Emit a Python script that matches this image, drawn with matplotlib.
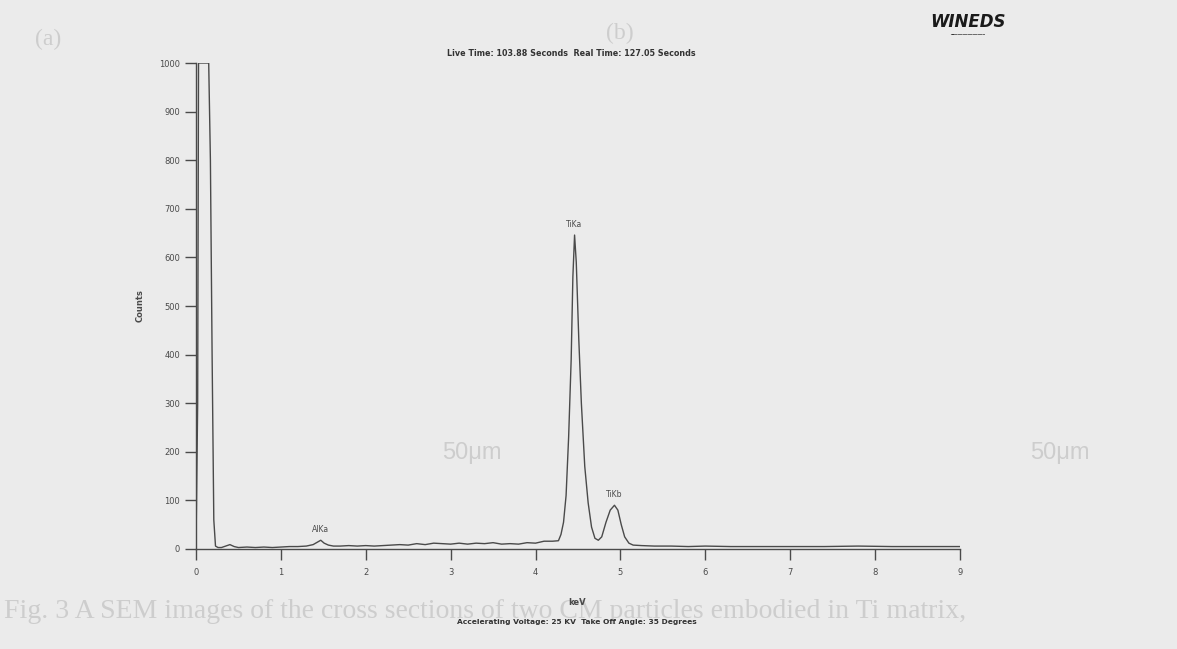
import numpy as np
import matplotlib.pyplot as plt

# EDS 能谱数据
energy = [0.00, 0.02, 0.03, 0.15, 0.17, 0.19, 0.21, 0.23, 0.26, 0.30, 0.35, 0.40,
          0.45, 0.50, 0.60, 0.70, 0.80, 0.90, 1.00, 1.10, 1.20, 1.30, 1.38, 1.43,
          1.47, 1.51, 1.56, 1.62, 1.70, 1.80, 1.90, 2.00, 2.10, 2.20, 2.30, 2.40,
          2.50, 2.60, 2.70, 2.80, 2.90, 3.00, 3.10, 3.20, 3.30, 3.40, 3.50, 3.60,
          3.70, 3.80, 3.90, 4.00, 4.10, 4.20, 4.27, 4.30, 4.33, 4.36, 4.39, 4.42,
          4.44, 4.46, 4.48, 4.51, 4.54, 4.58, 4.62, 4.66, 4.70, 4.74, 4.78, 4.83,
          4.88, 4.93, 4.97, 5.01, 5.05, 5.10, 5.15, 5.25, 5.40, 5.60, 5.80, 6.00,
          6.30, 6.60, 7.00, 7.40, 7.80, 8.20, 8.60, 9.00]
counts = [0, 300, 1000, 1000, 800, 400, 60, 6, 3, 3, 6, 9,
          5, 3, 4, 3, 4, 3, 4, 5, 5, 6, 9, 14,
          18, 12, 8, 6, 6, 7, 6, 7, 6, 7, 8, 9,
          8, 11, 9, 12, 11, 10, 12, 10, 12, 11, 13, 10,
          11, 10, 13, 12, 16, 16, 17, 30, 55, 110, 230, 390,
          560, 646, 590, 430, 300, 170, 95, 45, 22, 18, 25, 55,
          80, 90, 80, 50, 25, 12, 8, 7, 6, 6, 5, 6,
          5, 5, 5, 5, 6, 5, 5, 5]

peak_names = ["AlKa", "TiKa", "TiKb"]
peak_x = [1.47, 4.46, 4.93]
peak_y = [18, 646, 90]

x_ticks = [0, 1, 2, 3, 4, 5, 6, 7, 8, 9]
y_ticks = [0, 100, 200, 300, 400, 500, 600, 700, 800, 900, 1000]

plt.rcParams['font.family'] = ['Liberation Sans Narrow', 'DejaVu Sans']
bg = '#ebebeb'
ink = '#4a4a4a'

fig = plt.figure(figsize=(11.77, 6.49), dpi=100)
fig.patch.set_facecolor(bg)

# 背面透过来的文字（扫描件）
ghost = '#cdcdcd'
fig.text(0.03, 0.93, "(a)", fontsize=17, family='Liberation Serif', color=ghost)
fig.text(0.515, 0.94, "(b)", fontsize=17, family='Liberation Serif', color=ghost)
fig.text(0.376, 0.292, "50μm", fontsize=17, family='Liberation Sans', color=ghost)
fig.text(0.875, 0.292, "50μm", fontsize=17, family='Liberation Sans', color=ghost)
fig.text(0.003, 0.048, "Fig. 3 A SEM images of the cross sections of two CM particles embodied in Ti matrix,",
         fontsize=20, family='Liberation Serif', color=ghost, zorder=0)

ax = fig.add_axes([0.1665, 0.1541, 0.6491, 0.7488])
ax.patch.set_alpha(0)
ax.plot(energy, counts, color=ink, linewidth=1.0)

for name, px, py in zip(peak_names, peak_x, peak_y):
    ax.text(px, py + 12, name, fontsize=5.5, color=ink, ha='center', va='bottom')

ax.set_xlim(0, 9)
ax.set_ylim(0, 1000)
ax.set_xticks(x_ticks)
ax.set_yticks(y_ticks)
ax.tick_params(axis='both', labelsize=6, colors=ink, length=8, width=1)
ax.tick_params(axis='x', pad=6)
for s in ['top', 'right']:
    ax.spines[s].set_visible(False)
for s in ['left', 'bottom']:
    ax.spines[s].set_color(ink)
    ax.spines[s].set_linewidth(1.0)

ax.set_ylabel("Counts", fontsize=6, fontweight='bold', color=ink, labelpad=10)
fig.text(0.4905, 0.072, "keV", fontsize=6, fontweight='bold', color=ink, ha='center', va='center')
fig.text(0.4905, 0.042, "Accelerating Voltage: 25 KV  Take Off Angle: 35 Degrees",
         fontsize=5.4, fontweight='bold', color='#333333', ha='center', va='center')
fig.text(0.4855, 0.918, "Live Time: 103.88 Seconds  Real Time: 127.05 Seconds",
         fontsize=5.8, fontweight='bold', color='#333333', ha='center', va='center')

# 右上角标志
fig.text(0.822, 0.966, "WINEDS", fontsize=12, fontweight='bold', style='italic',
         color='#1a1a1a', ha='center', va='center')
fig.text(0.822, 0.946, "─" * 14, fontsize=3, color='#1a1a1a', ha='center', va='center')

fig.savefig("out.png", dpi=100, facecolor=bg)
